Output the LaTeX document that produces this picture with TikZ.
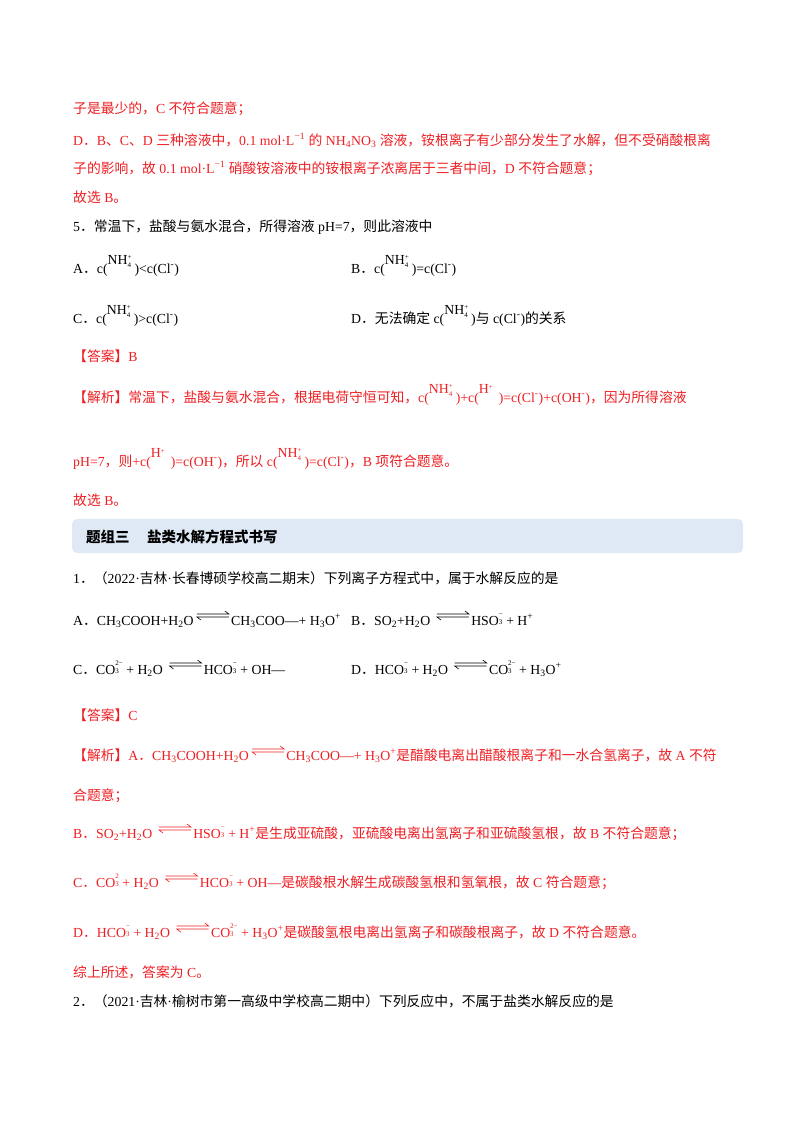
\documentclass[tikz,border=0pt]{standalone}
\usepackage{fontspec}
\setmainfont{Liberation Serif}
\newfontfamily\cjk{Noto Sans CJK SC}
\XeTeXinterchartokenstate=1
\newXeTeXintercharclass\cjkclass
\newcount\cc
\def\setrange#1#2{\cc=#1\relax\loop\XeTeXcharclass\cc=\cjkclass\advance\cc by 1\relax\ifnum\cc<#2\repeat}
\setrange{"4E00}{"A000}
\setrange{"3000}{"3040}
\setrange{"FF00}{"FFF0}
\XeTeXinterchartoks 0 \cjkclass={\cjk}
\XeTeXinterchartoks 4095 \cjkclass={\cjk}
\XeTeXinterchartoks \cjkclass 0={\rmfamily}
\XeTeXinterchartoks \cjkclass 4095={\rmfamily}
\definecolor{rd}{RGB}{238,30,35}
\definecolor{hdr}{RGB}{222,233,245}
\newcommand{\nhf}{\raisebox{9pt}{NH\rlap{\raisebox{-3pt}{\fontsize{7}{7}\selectfont 4}}\raisebox{5pt}{\fontsize{7}{7}\selectfont +}}\hspace{3pt}}
\newcommand{\hp}{\raisebox{9pt}{H\raisebox{4pt}{\fontsize{7}{7}\selectfont +}}\hspace{6pt}}
\newcommand{\sm}[1]{{\fontsize{7}{7}\selectfont #1}}
\newcommand{\ionx}[3]{#1\rlap{\raisebox{1pt}{\sm{#2}}}\raisebox{9pt}{\sm{#3}}}
\newcommand{\eqa}{\hspace{3pt}\tikz[x=1pt,y=1pt,baseline=-8pt,line width=0.6pt]{\draw (0,3)--(32,3)--(28,6); \draw (32,0)--(0,0)--(4,-3);}\hspace{2pt}}
\tikzset{t/.style={anchor=base west,inner sep=0pt,font=\fontsize{13.8}{16}\selectfont},
 r/.style={t,text=rd}}
\begin{document}
\begin{tikzpicture}[x=1pt,y=-1pt]
\useasboundingbox (0,0) rectangle (800,1132);
\node[r] (l1) at (73,113) {子是最少的，C 不符合题意；};
\node[r] (l2) at (73,145) {D．B、C、D 三种溶液中，0.1 mol·L\textsuperscript{−1} 的 NH\textsubscript{4}NO\textsubscript{3} 溶液，铵根离子有少部分发生了水解，但不受硝酸根离};
\node[r] (l3) at (73,173) {子的影响，故 0.1 mol·L\textsuperscript{−1} 硝酸铵溶液中的铵根离子浓离居于三者中间，D 不符合题意；};
\node[r] (l4) at (73,202) {故选 B。};
\node[t] (q5) at (73,231) {5．常温下，盐酸与氨水混合，所得溶液 pH=7，则此溶液中};
\node[t] (oA) at (73,273) {A．c(\nhf)<c(Cl\textsuperscript{-})};
\node[t] (oB) at (351,273) {B．c(\nhf)=c(Cl\textsuperscript{-})};
\node[t] (oC) at (73,323) {C．c(\nhf)>c(Cl\textsuperscript{-})};
\node[t] (oD) at (351,323) {D．无法确定 c(\nhf)与 c(Cl\textsuperscript{-})的关系};
\node[r] (ans) at (73,361) {【答案】B};
\node[r] (j1) at (73,402) {【解析】常温下，盐酸与氨水混合，根据电荷守恒可知，c(\nhf)+c(\hp)=c(Cl\textsuperscript{-})+c(OH\textsuperscript{-})，因为所得溶液};
\node[r] (j2) at (73,466) {pH=7，则+c(\hp)=c(OH\textsuperscript{-})，所以 c(\nhf)=c(Cl\textsuperscript{-})，B 项符合题意。};
\node[r] (g) at (73,505) {故选 B。};
\fill[hdr, rounded corners=5pt] (72,519) rectangle (743,553);
\node[t,font=\fontsize{14.5}{16}\selectfont\bfseries] (h) at (86,542) {题组三\hspace{1.2em}盐类水解方程式书写};
\node[t] (q1) at (73,583) {1．（2022·吉林·长春博硕学校高二期末）下列离子方程式中，属于水解反应的是};
\node[t] (eA) at (73,625) {A．CH\textsubscript{3}COOH+H\textsubscript{2}O\eqa CH\textsubscript{3}COO—+ H\textsubscript{3}O\textsuperscript{+}};
\node[t] (eB) at (351,625) {B．SO\textsubscript{2}+H\textsubscript{2}O \eqa HSO\ionx{}{3}{−} + H\textsuperscript{+}};
\node[t] (eC) at (73,674) {C．\ionx{CO}{3}{2−} + H\textsubscript{2}O \eqa HCO\ionx{}{3}{−} + OH—};
\node[t] (eD) at (351,674) {D．HCO\ionx{}{3}{−} + H\textsubscript{2}O \eqa\ionx{CO}{3}{2−} + H\textsubscript{3}O\textsuperscript{+}};
\node[r] (ans2) at (73,720) {【答案】C};
\node[r] (k1) at (73,760) {【解析】A．CH\textsubscript{3}COOH+H\textsubscript{2}O\eqa CH\textsubscript{3}COO—+ H\textsubscript{3}O\textsuperscript{+}是醋酸电离出醋酸根离子和一水合氢离子，故 A 不符};
\node[r] (k2) at (73,800) {合题意；};
\node[r] (k3) at (73,838) {B．SO\textsubscript{2}+H\textsubscript{2}O \eqa HSO\ionx{}{3}{−} + H\textsuperscript{+}是生成亚硫酸，亚硫酸电离出氢离子和亚硫酸氢根，故 B 不符合题意；};
\node[r] (k4) at (73,887) {C．\ionx{CO}{3}{2} + H\textsubscript{2}O \eqa HCO\ionx{}{3}{−} + OH—是碳酸根水解生成碳酸氢根和氢氧根，故 C 符合题意；};
\node[r] (k5) at (73,937) {D．HCO\ionx{}{3}{−} + H\textsubscript{2}O \eqa\ionx{CO}{3}{2−} + H\textsubscript{3}O\textsuperscript{+}是碳酸氢根电离出氢离子和碳酸根离子，故 D 不符合题意。};
\node[r] (k6) at (73,977) {综上所述，答案为 C。};
\node[t] (q2) at (73,1006) {2．（2021·吉林·榆树市第一高级中学校高二期中）下列反应中，不属于盐类水解反应的是};
\end{tikzpicture}
\end{document}
